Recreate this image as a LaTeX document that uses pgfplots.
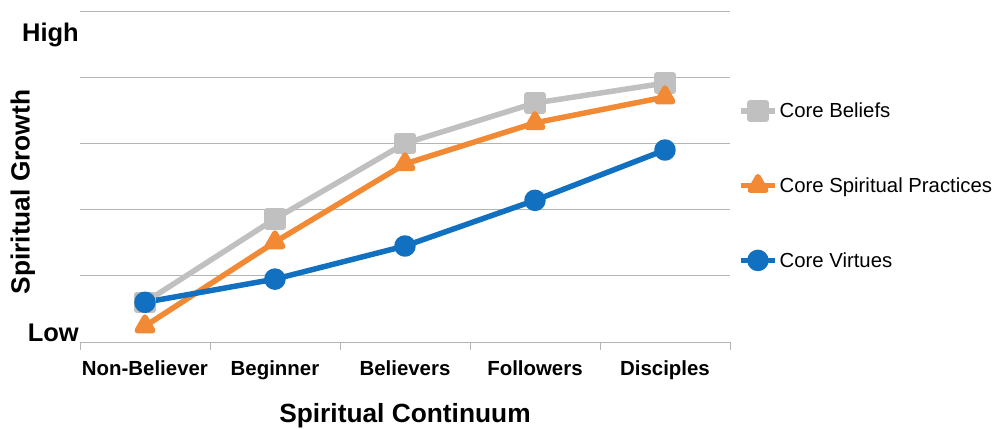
\documentclass[border=0pt]{standalone}
\usepackage{fontspec}
\setmainfont{Liberation Sans}
\usepackage{pgfplots}
\pgfplotsset{compat=1.18}
\definecolor{cgray}{HTML}{C0C0C0}
\definecolor{corange}{HTML}{F28A35}
\definecolor{cblue}{HTML}{1170C0}
\definecolor{gridc}{HTML}{B4B4B4}
\begin{document}
\begin{tikzpicture}
\begin{axis}[
  scale only axis, width=650bp, height=331bp,
  xmin=-0.5, xmax=4.5, ymin=0, ymax=5,
  axis x line*=bottom, axis y line*=left,
  y axis line style={draw=none},
  x axis line style={draw=gridc, line width=0.8pt, -},
  xtick={0,...,4},
  xticklabels={Non-Believer,Beginner,Believers,Followers,Disciples},
  x tick label style={font=\fontsize{20.5}{24}\selectfont\bfseries, yshift=-15bp},
  major tick length=0pt,
  extra x ticks={-0.5,0.5,1.5,2.5,3.5,4.5},
  extra x tick labels={},
  extra x tick style={major tick length=8bp, tick align=outside, tick style={draw=gridc, line width=0.8pt}},
  ytick={1,2,3,4,5}, yticklabels={},
  ymajorgrids, grid style={draw=gridc, line width=0.8pt},
  extra y ticks={0.14,4.64},
  extra y tick labels={Low,High},
  extra y tick style={grid=none, major tick length=0pt,
     tick label style={font=\fontsize{25.6}{30}\selectfont\bfseries, inner sep=1bp}},
  xlabel={Spiritual Continuum},
  xlabel style={font=\fontsize{26.4}{30}\selectfont\bfseries, at={(axis description cs:0.5,-0.2236)}, anchor=center},
  ylabel={Spiritual Growth},
  ylabel style={font=\fontsize{26.4}{30}\selectfont\bfseries, at={(axis description cs:-0.0877,0.453)}, anchor=center},
  legend style={at={(axis description cs:1.0123,0.729)}, anchor=north west, draw=none, fill=none,
     font=\fontsize{20.4}{24}\selectfont, row sep=54.5bp, inner sep=0pt},
  legend cell align=left,
  legend image code/.code={\draw[mark repeat=2,mark phase=2] plot coordinates {(0bp,0bp)(17bp,0bp)(34bp,0bp)};},
  every axis plot/.append style={line width=5.5bp, line join=round, mark size=8bp},
  clip=false,
]
\addplot[cgray, mark=square*] coordinates {(0,0.60)(1,1.86)(2,3.0)(3,3.61)(4,3.91)};
\addlegendentry{Core Beliefs}
\addplot[corange, mark=triangle*, mark size=9bp] coordinates {(0,0.24)(1,1.51)(2,2.69)(3,3.31)(4,3.70)};
\addlegendentry{Core Spiritual Practices}
\addplot[cblue, mark=*] coordinates {(0,0.60)(1,0.95)(2,1.45)(3,2.14)(4,2.90)};
\addlegendentry{Core Virtues}
\coordinate (bl) at (axis description cs:-0.123,-0.2628);
\coordinate (tr) at (axis description cs:1.4077,1.0332);
\end{axis}
\pgfresetboundingbox
\path (bl) rectangle (tr);
\end{tikzpicture}
\end{document}
